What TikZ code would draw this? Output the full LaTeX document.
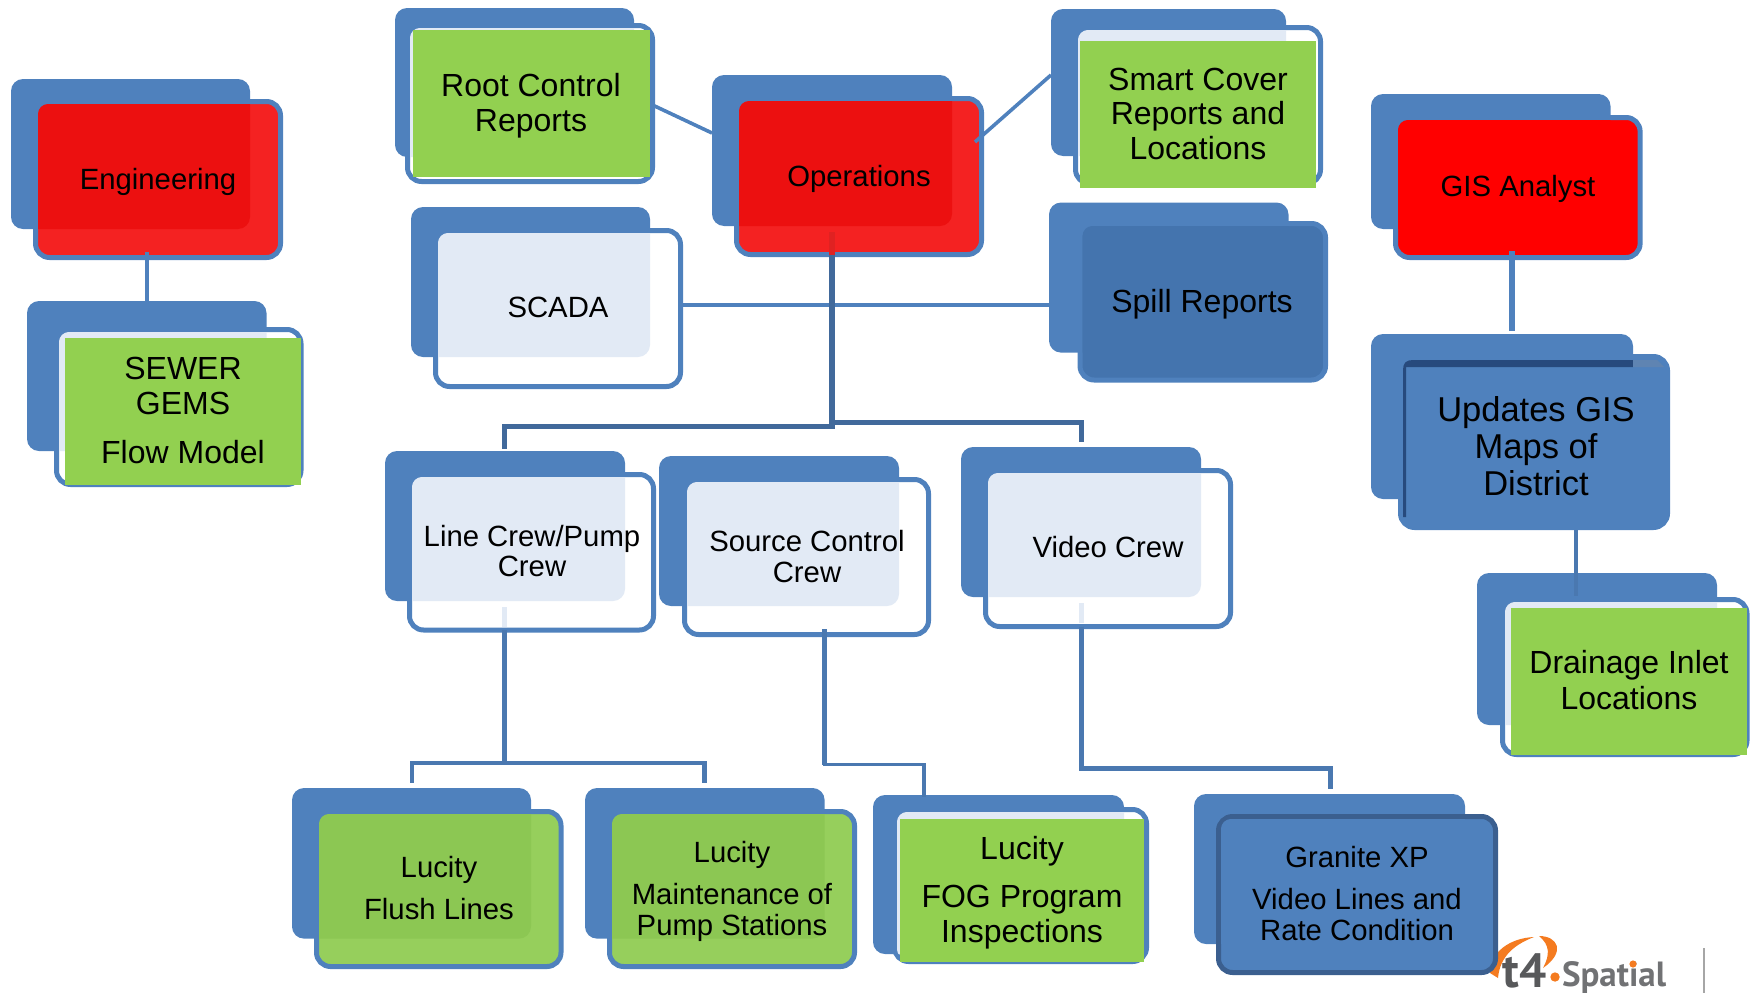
\documentclass[tikz,border=0pt]{standalone}
\usepackage{fontspec}
\setmainfont{Liberation Sans}
\newfontfamily\logofont{PT Sans}
\definecolor{bluemain}{HTML}{4F81BD}
\definecolor{bluedark}{HTML}{41699B}
\definecolor{bluemid}{HTML}{4A78B0}
\definecolor{bluespill}{HTML}{4474AE}
\definecolor{blueedge}{HTML}{3B5F8F}
\definecolor{bluestrip}{HTML}{274A7D}
\definecolor{bluestriplt}{HTML}{5F84B2}
\definecolor{pale}{HTML}{E2EAF5}
\definecolor{redfull}{HTML}{FF0000}
\definecolor{redlt}{HTML}{F42222}
\definecolor{redov}{HTML}{EC1010}
\definecolor{redstub}{HTML}{E02222}
\definecolor{greenfull}{HTML}{92D050}
\definecolor{greenlt}{HTML}{96CF5C}
\definecolor{greenov}{HTML}{8CC753}
\definecolor{logoor}{HTML}{F47B20}
\definecolor{logogr}{HTML}{58595B}
\tikzset{
  backbox/.style={fill=bluemain,draw=none,rounded corners=12pt,inner sep=0pt,outer sep=0pt},
  frontbox/.style={line width=5pt,rounded corners=14pt,inner sep=0pt,outer sep=0pt},
  greenrect/.style={fill=greenfull,draw=none,inner sep=0pt,outer sep=0pt},
  lbl/.style={inner sep=0pt,outer sep=0pt,align=center,text=black,anchor=base},
  conn/.style={draw=bluemain,line width=3.6pt},
  connthin/.style={draw=bluemid,line width=3.6pt},
  connmid/.style={draw=bluemid,line width=4.6pt},
  connwide/.style={draw=bluemid,line width=5.6pt},
  conndark/.style={draw=bluedark,line width=5pt},
}
\newcommand\Back[5]{\def\bxa{#2}\def\bya{#3}\def\bxb{#4}\def\byb{#5}%
  \node[backbox,minimum width={(#4-#2)*1pt},minimum height={(#5-#3)*1pt}] (#1b) at ({(#2+#4)/2},{(#3+#5)/2}) {};}
% name x0 y0 x1 y1 (outer edge) fill border overlap
\newcommand\Front[8]{%
  \node[frontbox,fill=#6,draw=#7,minimum width={(#4-#2-5)*1pt},minimum height={(#5-#3-5)*1pt}] (#1) at ({(#2+#4)/2},{(#3+#5)/2}) {};
  \begin{scope}
    \clip[rounded corners=10pt] ({#2+5},{#3+5}) rectangle ({#4-5},{#5-5});
    \fill[#8,rounded corners=12pt] (\bxa,\bya) rectangle (\bxb,\byb);
  \end{scope}}
\newcommand\Green[5]{\node[greenrect,minimum width={(#4-#2)*1pt},minimum height={(#5-#3)*1pt}] (#1g) at ({(#2+#4)/2},{(#3+#5)/2}) {};}
\newcommand\Txt[6]{\node[lbl,font=\fontsize{#4}{#5}\selectfont] (#1t) at (#2,#3) {#6};}
\begin{document}
\begin{tikzpicture}[x=1pt,y=-1pt]
\useasboundingbox (0,0) rectangle (1750,993);
% logo (behind Granite box)
\fill[logoor] (1490,973) .. controls (1490,952) and (1510,938) .. (1534,937)
   .. controls (1516,944) and (1500,955) .. (1498,978) -- cycle;
\fill[logoor] (1539,936) .. controls (1558,936) and (1566,952) .. (1543,968)
   .. controls (1550,955) and (1550,945) .. (1539,936) -- cycle;
\node[inner sep=0pt,outer sep=0pt,anchor=base,font=\logofont\bfseries\fontsize{48}{48}\selectfont,text=logogr] (logot) at (1524.5,987) {t4};
\fill[logoor] (1555,977) circle (4.7);
\node[inner sep=0pt,outer sep=0pt,anchor=base west,font=\logofont\bfseries\fontsize{35}{35}\selectfont,text=logogr!85] (logos) at (1562,986) {Spatial};
\fill[logoor] (1633,964) circle (3.6);
\coordinate (sepa) at (1704,948);
\coordinate (sepb) at (1704,993);
\draw[line width=2pt,draw=black!35] (sepa) -- (sepb);

% named free ends
\coordinate (trunkbus) at (832,426);
\coordinate (buslL) at (504.5,426);
\coordinate (buslR) at (1081.5,422);
\coordinate (trunkbusR) at (832,422);
\coordinate (lineBus) at (504.5,763);
\coordinate (flushDrop) at (412,763);
\coordinate (maintDrop) at (704.5,763);
\coordinate (sourceBend) at (824.6,764.6);
\coordinate (fogBend) at (924,764.6);
\coordinate (videoBend) at (1081,768);
\coordinate (graniteBend) at (1330,768);

% Engineering
\Back{eng}{11}{79}{250}{229}
\Front{eng}{33}{99}{283}{260}{redlt}{bluemain}{redov}
\Txt{eng}{158}{189}{29.3}{33}{Engineering}
% SEWER
\Back{sew}{27}{301}{266.5}{451}
\Front{sew}{54}{327}{303.5}{487}{white}{bluemain}{pale}
\Green{sew}{65}{338}{301}{485}
\Txt{sew}{183}{463}{32}{34.5}{SEWER\\GEMS\\[14.5pt]Flow Model}
% Root
\Back{root}{395}{8}{634}{157}
\Front{root}{405}{23}{655}{184}{white}{bluemain}{pale}
\Green{root}{413}{30}{650}{177}
\Txt{root}{531}{131.7}{32}{35}{Root Control\\Reports}
% SCADA
\Back{sca}{411}{207}{650}{357}
\Front{sca}{433}{228}{683}{389}{white}{bluemain}{pale}
\Txt{sca}{558}{317.7}{29.3}{33}{SCADA}
% Operations
\Back{ops}{712}{75}{952}{226}
\Front{ops}{734}{96}{984}{257}{redlt}{bluemain}{redov}
\Txt{ops}{859}{186}{29.3}{33}{Operations}
% Smart Cover
\Back{sma}{1051}{9}{1286}{156}
\Front{sma}{1073}{25}{1323}{186}{white}{bluemain}{pale}
\Green{sma}{1080}{41}{1316}{188}
\Txt{sma}{1198}{159}{32}{34.5}{Smart Cover\\Reports and\\Locations}
% Spill
\Back{spi}{1049}{202.5}{1288.5}{352.6}
\Front{spi}{1077.5}{221}{1328}{382.5}{bluespill}{bluemain}{bluespill}
\Txt{spi}{1202}{312.6}{32}{35}{Spill Reports}
% GIS
\Back{gis}{1371}{94}{1610.5}{229}
\Front{gis}{1393}{115}{1642.6}{260}{redfull}{bluemain}{redfull}
\Txt{gis}{1518}{196}{29.3}{33}{GIS Analyst}
% Updates
\Back{upd}{1371}{334}{1633}{499}
\Front{upd}{1398}{354}{1670}{530}{bluemain}{bluemain}{bluemain}
\fill[bluestrip] (1403,517) -- (1403,370) .. controls (1403,363) and (1406,360) .. (1413,360) -- (1633,360) -- (1633,367) -- (1406,367) -- (1406,517) -- cycle;
\fill[bluestriplt] (1633,360) -- (1657,360) -- (1664,367) -- (1633,367) -- cycle;
\Txt{upd}{1536}{495}{34.5}{37}{Updates GIS\\Maps of\\District}
% Drainage
\Back{dra}{1477}{573}{1717}{725}
\Front{dra}{1500}{597}{1749.5}{757}{white}{bluemain}{pale}
\Green{dra}{1511}{608}{1747}{755}
\Txt{dra}{1629}{709}{32}{35.5}{Drainage Inlet\\Locations}
% Line Crew
\Back{lin}{385}{451}{625}{601}
\Front{lin}{407}{472}{656}{632.5}{white}{bluemain}{pale}
\Txt{lin}{532}{576}{29.3}{30}{Line Crew/Pump\\Crew}
% Source
\Back{sou}{659}{456}{899}{606}
\Front{sou}{682}{477}{931}{637}{white}{bluemain}{pale}
\Txt{sou}{807}{582}{29.3}{31}{Source Control\\Crew}
% Video
\Back{vid}{961}{447}{1201}{597}
\Front{vid}{983}{468}{1233}{629}{white}{bluemain}{pale}
\Txt{vid}{1108}{557}{29.3}{33}{Video Crew}
% Flush
\Back{flu}{292}{788}{531}{938.6}
\Front{flu}{314}{809}{563.5}{969}{greenlt}{bluemain}{greenov}
\Txt{flu}{439}{919}{29.3}{33}{Lucity\\[9pt]Flush Lines}
% Maintenance
\Back{mai}{585}{788}{824.6}{938.6}
\Front{mai}{607}{809}{857}{969}{greenlt}{bluemain}{greenov}
\Txt{mai}{732}{935}{29.3}{31}{Lucity\\[11pt]Maintenance of\\Pump Stations}
% FOG
\Back{fog}{873}{795}{1124}{954}
\Front{fog}{892}{807}{1149}{964}{white}{bluemain}{pale}
\Green{fog}{900}{819}{1144}{962}
\Txt{fog}{1022}{942}{32}{35}{Lucity\\[13pt]FOG Program\\Inspections}
% Granite
\Back{gra}{1194}{794}{1465}{944}
\Front{gra}{1216}{814}{1498}{975}{bluemain}{blueedge}{bluemain}
\Txt{gra}{1357}{940}{29.3}{31}{Granite XP\\[11pt]Video Lines and\\Rate Condition}

% connectors
\coordinate (engStub) at (147,252);
\draw[conn] (engStub) -- (engStub |- sewb.north);
\draw[conn] (root.east |- 0,105) -- (opsb.west |- 0,133);
\draw[conn] (975,142) -- (smab.west |- 0,75);
\draw[conn] (sca.east |- 0,305) -- (spib.west |- 0,305);
\coordinate (opsStub) at (832,232);
\draw[draw=redstub,line width=6pt] (opsStub) -- (opsStub |- ops.south);
\draw[draw=bluedark,line width=6pt] (opsStub |- ops.south) -- (trunkbus);
\draw[conndark,line cap=rect] (trunkbus) -- (buslL) -- (buslL |- 0,446);
\draw[conndark] (trunkbusR) -- (buslR) -- (buslR |- 0,442);
\coordinate (gisStub) at (1512,251);
\draw[draw=bluemain,line width=5.7pt] (gisStub) -- (gisStub |- 0,331);
\draw[connthin] (1576,530) -- (1576,596);
\draw[draw=pale,line width=5pt] (504.5,607) -- (504.5,627);
\draw[connwide] (lin.south -| lineBus) -- (lineBus);
\draw[connmid] (flushDrop |- 0,782.5) -- (flushDrop) -- (maintDrop) -- (maintDrop |- 0,782.5);
\draw[connmid] (824.6,629) -- (sourceBend);
\draw[connthin,line cap=rect] (sourceBend) -- (fogBend) -- (fogBend |- fogb.north);
\draw[draw=pale,line width=5pt] (1081,603) -- (1081,623);
\draw[draw=bluemid,line width=5pt] (vid.south -| videoBend) -- (videoBend) -- (graniteBend) -- (graniteBend |- 0,789);
\end{tikzpicture}
\end{document}
